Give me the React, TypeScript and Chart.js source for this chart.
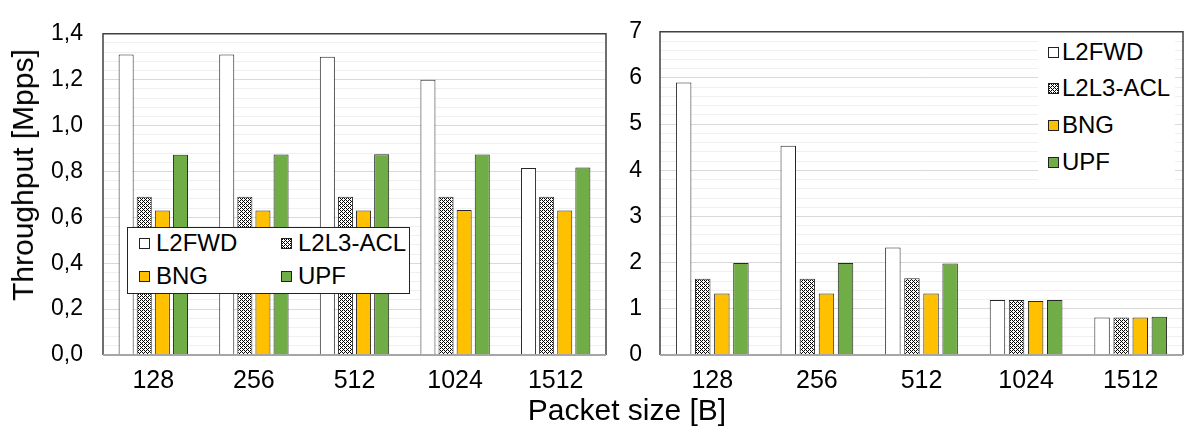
import React, { useEffect, useRef } from 'react';
import { Chart, registerables } from 'chart.js';

Chart.register(...registerables);

// ---- data ----
const categories = ['128', '256', '512', '1024', '1512'];
const seriesNames = ['L2FWD', 'L2L3-ACL', 'BNG', 'UPF'];

const leftL2FWD = [1.31, 1.31, 1.3, 1.2, 0.815];
const leftL2L3ACL = [0.69, 0.69, 0.69, 0.69, 0.69];
const leftBNG = [0.63, 0.63, 0.63, 0.632, 0.63];
const leftUPF = [0.873, 0.874, 0.875, 0.874, 0.817];

const rightL2FWD = [5.9, 4.53, 2.33, 1.19, 0.81];
const rightL2L3ACL = [1.65, 1.65, 1.66, 1.19, 0.81];
const rightBNG = [1.33, 1.33, 1.33, 1.17, 0.81];
const rightUPF = [1.99, 1.99, 1.98, 1.19, 0.83];

const leftAxis = { min: 0, max: 1.4, major: 0.2, minor: 0.04, decimals: 1 };
const rightAxis = { min: 0, max: 7, major: 1, minor: 0.2, decimals: 0 };

const yTitle = 'Throughput [Mpps]';
const xTitle = 'Packet size [B]';

const FONT = '"Liberation Sans", Arial, Helvetica, sans-serif';
const YELLOW = '#FFC000';
const GREEN = '#70AD47';
const OUTLINE = '#262626';

// white "plus" shapes on black in a diagonal lattice (4x4 tile)
const patternRows = ['BWBW', 'WWWB', 'BWBW', 'WBWW'];

function makePatternCanvas(): HTMLCanvasElement {
  const c = document.createElement('canvas');
  c.width = 4;
  c.height = 4;
  const g = c.getContext('2d')!;
  patternRows.forEach((row, y) => {
    for (let x = 0; x < 4; x++) {
      g.fillStyle = row[x] === 'B' ? '#000' : '#fff';
      g.fillRect(x, y, 1, 1);
    }
  });
  return c;
}

const framePlugin = {
  id: 'frame',
  afterDatasetsDraw(chart: any) {
    const { ctx, chartArea } = chart;
    const { left, right, top, bottom } = chartArea;
    ctx.save();
    ctx.strokeStyle = '#404040';
    ctx.lineWidth = 1.5;
    ctx.beginPath();
    ctx.moveTo(left, bottom);
    ctx.lineTo(left, top);
    ctx.lineTo(right, top);
    ctx.lineTo(right, bottom);
    ctx.stroke();
    ctx.strokeStyle = '#a6a6a6';
    ctx.lineWidth = 2;
    ctx.beginPath();
    ctx.moveTo(left, bottom);
    ctx.lineTo(right, bottom);
    ctx.stroke();
    ctx.restore();
  },
};

function buildChart(
  canvas: HTMLCanvasElement,
  values: number[][],
  axis: typeof leftAxis,
  yWidth: number,
  yPad: number,
  rightPad: number,
  catPct: number,
  barPct: number
) {
  const pc = makePatternCanvas();
  const pattern = canvas.getContext('2d')!.createPattern(pc, 'repeat') || '#888';
  const fills = ['#ffffff', pattern, YELLOW, GREEN];
  const isMajor = (v: number) => {
    const r = v / axis.major;
    return Math.abs(r - Math.round(r)) < 1e-6;
  };
  return new Chart(canvas, {
    type: 'bar',
    data: {
      labels: categories,
      datasets: seriesNames.map((name, i) => ({
        label: name,
        data: values[i],
        backgroundColor: fills[i] as any,
        borderColor: OUTLINE,
        borderWidth: 1,
        categoryPercentage: catPct,
        barPercentage: barPct,
      })),
    },
    options: {
      animation: false,
      responsive: false,
      maintainAspectRatio: false,
      layout: { padding: { top: 19, right: rightPad, left: 0, bottom: 0 } },
      plugins: { legend: { display: false }, tooltip: { enabled: false } },
      scales: {
        x: {
          grid: { display: false },
          border: { display: false },
          ticks: { color: '#000', font: { family: FONT, size: 25 }, padding: 3 },
          afterFit: (s: any) => {
            s.height = 84;
          },
        },
        y: {
          min: axis.min,
          max: axis.max,
          border: { display: false },
          grid: {
            drawTicks: false,
            color: (ctx: any) => (isMajor(ctx.tick.value) ? '#d9d9d9' : '#f0f0f0'),
            lineWidth: 1,
          },
          ticks: {
            stepSize: axis.minor,
            autoSkip: false,
            color: '#000',
            padding: yPad,
            font: { family: FONT, size: 23 },
            callback: (v: any) =>
              isMajor(Number(v)) ? Number(v).toFixed(axis.decimals).replace('.', ',') : '',
          },
          afterFit: (s: any) => {
            s.width = yWidth;
          },
        },
      },
    },
    plugins: [framePlugin],
  } as any);
}

const swatchBase: React.CSSProperties = {
  display: 'inline-block',
  width: 11,
  height: 11,
  border: '1px solid #222',
  boxSizing: 'border-box',
};

function LegendItem({
  idx,
  x,
  y,
  gap,
  patternUrl,
}: {
  idx: number;
  x: number;
  y: number;
  gap: number;
  patternUrl: string;
}) {
  const fills: React.CSSProperties[] = [
    { background: '#fff' },
    patternUrl
      ? { backgroundImage: `url(${patternUrl})`, backgroundRepeat: 'repeat' }
      : { background: '#888' },
    { background: YELLOW },
    { background: GREEN },
  ];
  return (
    <div
      style={{
        position: 'absolute',
        left: x,
        top: y,
        transform: 'translateY(-50%)',
        display: 'flex',
        alignItems: 'center',
        whiteSpace: 'nowrap',
        fontFamily: FONT,
        fontSize: 24,
        lineHeight: 1,
        color: '#000',
      }}
    >
      <span style={{ ...swatchBase, ...fills[idx], marginRight: gap }} />
      <span>{seriesNames[idx]}</span>
    </div>
  );
}

export default function App() {
  const leftRef = useRef<HTMLCanvasElement>(null);
  const rightRef = useRef<HTMLCanvasElement>(null);
  const [patternUrl, setPatternUrl] = React.useState('');

  useEffect(() => {
    setPatternUrl(makePatternCanvas().toDataURL());
    const a = buildChart(
      leftRef.current!,
      [leftL2FWD, leftL2L3ACL, leftBNG, leftUPF],
      leftAxis,
      103,
      20,
      4,
      0.72,
      0.83
    );
    const b = buildChart(
      rightRef.current!,
      [rightL2FWD, rightL2L3ACL, rightBNG, rightUPF],
      rightAxis,
      50,
      18,
      1,
      0.73,
      0.81
    );
    return () => {
      a.destroy();
      b.destroy();
    };
  }, []);

  return (
    <div
      style={{
        position: 'absolute',
        left: 0,
        top: 0,
        width: 1184,
        height: 439,
        background: '#fff',
        overflow: 'hidden',
      }}
    >
      <canvas
        ref={leftRef}
        width={610}
        height={439}
        style={{ position: 'absolute', left: 0, top: 0, width: 610, height: 439 }}
      />
      <canvas
        ref={rightRef}
        width={574}
        height={439}
        style={{ position: 'absolute', left: 610, top: 0, width: 574, height: 439 }}
      />
      {/* y-axis title */}
      <div
        style={{
          position: 'absolute',
          left: 23,
          top: 175,
          transform: 'translate(-50%, -50%) rotate(-90deg)',
          fontFamily: FONT,
          fontSize: 30,
          lineHeight: 1,
          whiteSpace: 'nowrap',
          color: '#000',
        }}
      >
        {yTitle}
      </div>
      {/* x-axis title */}
      <div
        style={{
          position: 'absolute',
          left: 627,
          top: 410,
          transform: 'translate(-50%, -50%)',
          fontFamily: FONT,
          fontSize: 30,
          lineHeight: 1,
          whiteSpace: 'nowrap',
          color: '#000',
        }}
      >
        {xTitle}
      </div>
      {/* left legend */}
      <div
        style={{
          position: 'absolute',
          left: 127,
          top: 227,
          width: 283,
          height: 67,
          boxSizing: 'border-box',
          border: '1.5px solid #222',
          background: '#fff',
        }}
      />
      <LegendItem idx={0} x={139} y={243} gap={6} patternUrl={patternUrl} />
      <LegendItem idx={1} x={281} y={243} gap={6} patternUrl={patternUrl} />
      <LegendItem idx={2} x={139} y={276} gap={6} patternUrl={patternUrl} />
      <LegendItem idx={3} x={281} y={276} gap={6} patternUrl={patternUrl} />
      {/* right legend */}
      <div
        style={{
          position: 'absolute',
          left: 1038,
          top: 37,
          width: 137,
          height: 146,
          background: '#fff',
        }}
      />
      <LegendItem idx={0} x={1048} y={52} gap={3} patternUrl={patternUrl} />
      <LegendItem idx={1} x={1048} y={88} gap={3} patternUrl={patternUrl} />
      <LegendItem idx={2} x={1048} y={125} gap={3} patternUrl={patternUrl} />
      <LegendItem idx={3} x={1048} y={162} gap={3} patternUrl={patternUrl} />
    </div>
  );
}
